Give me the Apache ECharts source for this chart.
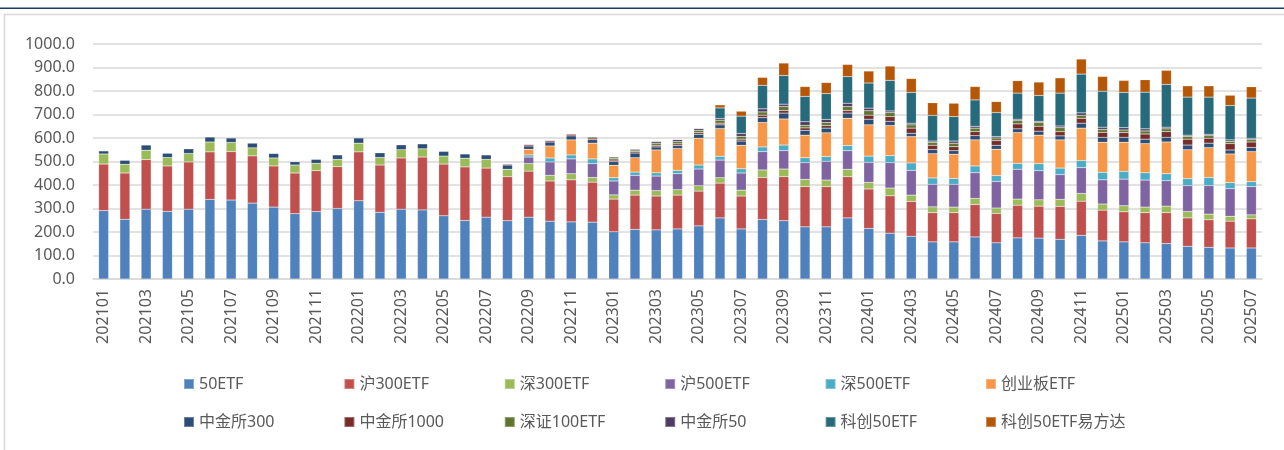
<!DOCTYPE html>
<html>
<head>
<meta charset="utf-8">
<script src="https://cdn.jsdelivr.net/npm/echarts@6/dist/echarts.min.js"></script>
<style>
html,body{margin:0;padding:0;background:#fff;}
#c{width:1284px;height:450px;}
</style>
</head>
<body>
<div id="c"></div>
<script>
const categories = ['202101','202102','202103','202104','202105','202106','202107','202108','202109','202110','202111','202112',
'202201','202202','202203','202204','202205','202206','202207','202208','202209','202210','202211','202212',
'202301','202302','202303','202304','202305','202306','202307','202308','202309','202310','202311','202312',
'202401','202402','202403','202404','202405','202406','202407','202408','202409','202410','202411','202412',
'202501','202502','202503','202504','202505','202506','202507'];

const seriesNames = ['50ETF','沪300ETF','深300ETF','沪500ETF','深500ETF','创业板ETF','中金所300','中金所1000','深证100ETF','中金所50','科创50ETF','科创50ETF易方达'];
const seriesColors = ['#4F81BD','#C0504D','#9BBB59','#8064A2','#4BACC6','#F79646','#2C4D75','#772C2A','#5F7530','#4D3B62','#276A7C','#B65708'];

const etf50 = [291,254,297,288,297,339,336,323,306,278,287,300,
333,284,297,294,269,249,263,248,263,246,243,242,
201,211,209,213,226,260,213,253,248,222,222,260,
215,195,182,158,158,179,154,175,174,169,186,162,
158,154,151,139,135,132,132];
const sh300 = [198,197,211,193,201,202,206,201,175,173,174,178,
208,201,218,225,220,228,209,187,196,171,179,170,
139,146,144,144,148,148,140,179,187,171,171,175,
168,159,148,124,124,138,125,139,136,140,145,131,
128,128,131,121,117,114,124];
const sz300 = [43,37,40,36,36,42,39,34,34,34,31,31,
37,32,35,35,34,37,37,32,32,24,26,20,
18,21,23,23,23,23,25,32,33,31,28,32,
28,33,27,25,24,26,23,26,27,30,33,26,
26,24,28,27,24,21,17];
const sh500 = [null,null,null,null,null,null,null,null,null,null,null,null,
null,null,null,null,null,null,null,null,28,57,63,59,
59,63,62,68,71,75,73,78,78,71,80,79,
85,108,105,96,97,109,113,127,124,105,110,103,
113,115,108,110,121,117,120];
const sz500 = [null,null,null,null,null,null,null,null,null,null,null,null,
null,null,null,null,null,null,null,null,9,17,17,20,
14,14,14,14,17,16,18,20,24,21,20,22,
27,30,32,27,25,29,25,25,30,28,30,32,
33,31,30,30,35,26,21];
const cybEtf = [null,null,null,null,null,null,null,null,null,null,null,null,
null,null,null,null,null,null,null,null,24,51,64,67,
53,61,97,93,114,118,100,104,111,96,101,116,
133,128,112,103,103,111,112,131,121,120,138,128,
124,124,135,123,127,122,128];
const cffex300 = [13,17,22,18,20,21,19,20,19,14,17,19,
22,20,21,21,20,18,19,18,14,17,17,15,
15,20,13,13,17,16,18,21,25,21,20,22,
24,18,14,18,15,18,17,16,17,17,21,21,
21,19,20,20,19,17,18];
const cffex1000 = [null,null,null,null,null,null,null,null,null,null,null,null,
null,null,null,null,null,null,2,4,6,6,7,7,
7,6,7,7,7,7,8,10,11,10,11,11,
17,20,22,18,17,17,20,21,21,18,21,21,
20,22,24,25,21,27,23];
const sz100 = [null,null,null,null,null,null,null,null,null,null,null,null,
null,null,null,null,null,null,null,null,null,null,null,5,
8,7,9,10,10,13,12,14,17,11,13,17,
19,17,14,13,15,15,11,14,16,17,13,13,
11,13,12,12,11,10,10];
const cffex50 = [null,null,null,null,null,null,null,null,null,null,null,null,
null,null,null,null,null,null,null,null,null,null,null,2,
5,4,7,8,7,8,12,13,10,15,13,14,
11,7,7,5,9,8,6,6,5,7,10,9,
10,9,7,5,6,6,6];
const kc50 = [null,null,null,null,null,null,null,null,null,null,null,null,
null,null,null,null,null,null,null,null,null,null,null,null,
null,null,null,null,null,44,74,100,122,108,110,113,
107,130,131,109,104,112,102,111,110,140,165,153,
150,156,182,162,158,146,171];
const kc50Efd = [null,null,null,null,null,null,null,null,null,null,null,null,
null,null,null,null,null,null,null,null,null,null,null,null,
null,null,null,null,null,13,21,34,53,42,47,52,
51,61,59,54,57,57,47,53,57,65,64,63,
51,53,60,48,48,44,48];

const yTicks = [0,100,200,300,400,500,600,700,800,900,1000];

const allData = [etf50,sh300,sz300,sh500,sz500,cybEtf,cffex300,cffex1000,sz100,cffex50,kc50,kc50Efd];

const FONT = '"Noto Sans","Noto Sans CJK SC",sans-serif';
const chart = echarts.init(document.getElementById('c'), null, {renderer:'canvas'});

const series = seriesNames.map((n,i)=>({
  name:n, type:'bar', stack:'total', data: allData[i], barWidth:10,
  itemStyle:{color:seriesColors[i], borderColor:'rgba(255,255,255,0.3)', borderWidth:0.5},
  emphasis:{disabled:true}
}));

const legendBase = {
  icon:'rect', itemWidth:10, itemHeight:10, itemGap:15.4, orient:'horizontal',
  textStyle:{color:'#595959', fontSize:16, fontFamily:FONT, width:129, lineHeight:20, overflow:'none'},
  selectedMode:false
};

chart.setOption({
  animation:false,
  backgroundColor:'#ffffff',
  graphic:[
    {type:'rect', shape:{x:0,y:7.5,width:1284,height:1.5}, style:{fill:'#1F3B63'}, z:100},
    {type:'rect', shape:{x:4.5,y:14.5,width:1290,height:460}, style:{fill:'none', stroke:'#d9d9d9', lineWidth:1.5}, z:-1}
  ],
  grid:{left:93, right:22, top:44, bottom:171, containLabel:false},
  legend:[
    Object.assign({}, legendBase, {left:178, top:369, data:seriesNames.slice(0,6)}),
    Object.assign({}, legendBase, {left:178, top:407, data:seriesNames.slice(6)})
  ],
  xAxis:{
    type:'category', data:categories,
    axisLine:{lineStyle:{color:'#d9d9d9', width:1.5}},
    axisTick:{show:false},
    axisLabel:{interval:1, rotate:90, margin:10, color:'#595959', fontSize:16, fontFamily:FONT}
  },
  yAxis:{
    type:'value', min:yTicks[0], max:yTicks[yTicks.length-1], interval:100,
    axisLine:{show:false}, axisTick:{show:false},
    splitLine:{lineStyle:{color:'#d9d9d9', width:1.5}},
    axisLabel:{margin:18, color:'#595959', fontSize:16, fontFamily:FONT, formatter:v=>v.toFixed(1)}
  },
  series:series
});
</script>
</body>
</html>
